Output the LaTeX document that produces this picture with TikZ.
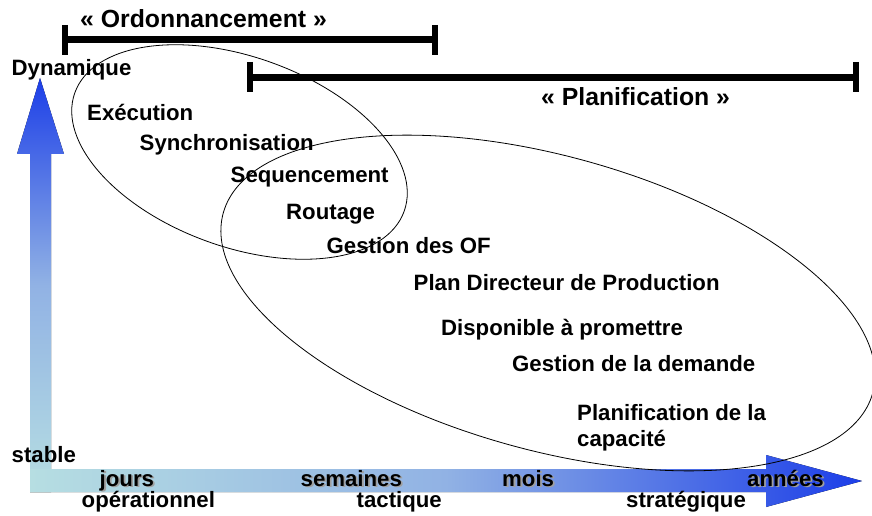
\documentclass[tikz,border=0pt]{standalone}
\usepackage{fontspec}
\setmainfont{Liberation Sans}
\definecolor{flecheBleu}{RGB}{28,62,232}
\definecolor{flecheClair}{RGB}{182,222,226}
\definecolor{flecheMilieu}{RGB}{145,178,228}
\tikzset{
  lbl/.style={anchor=base west, inner sep=0pt, font=\bfseries\fontsize{22.2}{26}\selectfont},
  titre/.style={lbl, font=\bfseries\fontsize{24.8}{28}\selectfont},
  borne/.style={line width=7pt},
  cran/.style={line width=6pt},
  zone/.style={line width=0.8pt},
}
% label with a grey drop shadow, for the time axis
\newcommand\ombre[4]{%
  \node[lbl, text=gray!75] (#1s) at (#2+1.8,#3-1.8) {#4};
  \node[lbl] (#1) at (#2,#3) {#4};}
\begin{document}
\begin{tikzpicture}[x=1pt,y=1pt]
  \clip (0,0) rectangle (872,515);
  % axes
  \fill[top color=flecheBleu, bottom color=flecheClair, middle color=flecheMilieu]
    (30,23) -- (30,361) -- (17,361) -- (40,437) -- (64,361) -- (51,361) -- (51,23) -- cycle;
  \fill[left color=flecheClair, right color=flecheBleu, middle color=flecheMilieu]
    (30,46) -- (766,46) -- (766,60) -- (862,34) -- (766,8) -- (766,23) -- (30,23) -- cycle;
  % the two domains
  \draw[zone] (239.5,363) ellipse [x radius=175, y radius=95, rotate=-19.8];
  \draw[zone] (548,212) ellipse [x radius=337, y radius=147, rotate=-15.5];
  % horizons
  \draw[borne] (65,475.5) -- (435,475.5);
  \draw[cran] (65,490) -- (65,460);
  \draw[cran] (435,490) -- (435,460);
  \draw[borne] (250,437) -- (856,437);
  \draw[cran] (250,453) -- (250,423);
  \draw[cran] (856,453) -- (856,423);
  \node[titre] (ordo) at (80,487) {« Ordonnancement »};
  \node[titre] (plani) at (541,409) {« Planification »};
  % vertical axis
  \node[lbl] (dyn) at (11.5,439) {Dynamique};
  \node[lbl] (stab) at (11.5,53) {stable};
  % functions
  \node[lbl] (exe) at (87,394) {Exécution};
  \node[lbl] (sync) at (139.5,364) {Synchronisation};
  \node[lbl] (seq) at (230.5,332.3) {Sequencement};
  \node[lbl] (rout) at (286,296) {Routage};
  \node[lbl] (gof) at (326.5,262) {Gestion des OF};
  \node[lbl] (pdp) at (413.5,224.3) {Plan Directeur de Production};
  \node[lbl] (dap) at (441,180) {Disponible à promettre};
  \node[lbl] (gdd) at (512,143.3) {Gestion de la demande};
  \node[lbl] (cap) at (577,94.3) {Planification de la};
  \node[lbl] (cap2) at (577,69) {capacité};
  % time axis
  \ombre{jours}{99.5}{29}{jours}
  \ombre{sem}{300.5}{29}{semaines}
  \ombre{mois}{502}{29}{mois}
  \ombre{ans}{747}{29}{années}
  \node[lbl] (oper) at (81.5,8) {opérationnel};
  \node[lbl] (tact) at (356.5,8) {tactique};
  \node[lbl] (strat) at (626,8) {stratégique};
\end{tikzpicture}
\end{document}
